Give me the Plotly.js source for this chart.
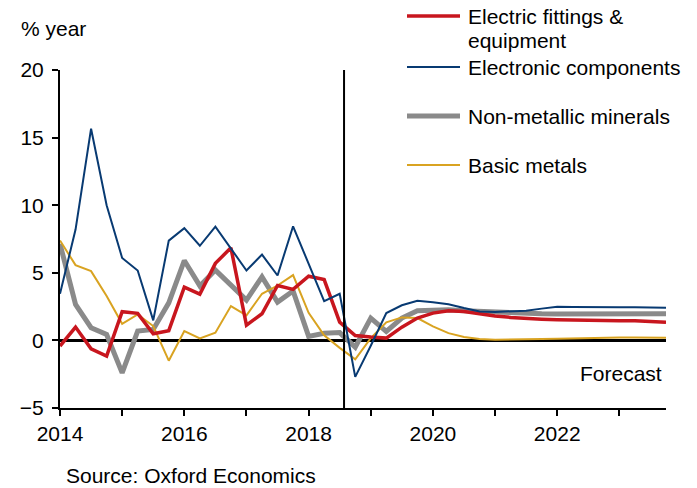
<!DOCTYPE html>
<html>
<head>
<meta charset="utf-8">
<script src="https://cdn.plot.ly/plotly-3.0.1.min.js"></script>
<style>
  html, body { margin: 0; padding: 0; background: #fff; }
  #chart { width: 697px; height: 488px; }
</style>
</head>
<body>
<div id="chart"></div>
<script>
// Quarterly year-on-year growth, 2014Q1 to 2023Q4 (forecast from mid-2018)
const startYear = 2014;
const endYear = 2023;

const electricFittings = [
  -0.42, 0.99, -0.62, -1.16,
   2.12, 2.00,  0.49,  0.72,
   3.94, 3.42,  5.70,  6.85,
   1.13, 1.97,  4.06,  3.77,
   4.75, 4.50,  1.35,  0.36,
   0.25, 0.17,  0.98,  1.65,
   2.02, 2.19,  2.14,  1.95,
   1.80, 1.70,  1.62,  1.57,
   1.53, 1.50,  1.47,  1.45,
   1.45, 1.46,  1.42,  1.35
];

const electronicComponents = [
   3.45, 8.20, 15.66, 10.00,
   6.10, 5.17,  1.48,  7.38,
   8.30, 7.00,  8.42,  6.80,
   5.17, 6.35,  4.80,  8.44,
   5.60, 2.90,  3.45, -2.70,
  -0.40, 2.02,  2.60,  2.93,
   2.83, 2.68,  2.39,  2.14,
   2.10, 2.15,  2.20,  2.35,
   2.48, 2.47,  2.45,  2.45,
   2.45, 2.45,  2.44,  2.42
];

const nonMetallicMinerals = [
   7.14, 2.66, 0.94, 0.44,
  -2.40, 0.69, 0.81, 2.78,
   5.91, 4.03, 5.20, 4.14,
   2.98, 4.70, 2.83, 3.65,
   0.30, 0.53, 0.58, -0.50,
   1.65, 0.67, 1.65, 2.20,
   2.27, 2.27, 2.20, 2.14,
   2.09, 2.05, 2.00, 1.97,
   1.95, 1.95, 1.96, 1.97,
   1.98, 2.00, 2.00, 1.98
];

const basicMetals = [
   7.39, 5.57, 5.12, 3.28,
   1.23, 1.92, 1.06, -1.50,
   0.69, 0.15, 0.57, 2.54,
   1.85, 3.45, 4.06, 4.83,
   2.04, 0.37, -0.55, -1.40,
   0.17, 1.33, 1.70, 1.65,
   1.03, 0.54, 0.25, 0.10,
   0.05, 0.05, 0.08, 0.10,
   0.13, 0.16, 0.18, 0.20,
   0.22, 0.22, 0.21, 0.20
];

const seriesNames = [
  'Electric fittings &',
  'equipment',
  'Electronic components',
  'Non-metallic minerals',
  'Basic metals'
];

const yTickVals = [-5, 0, 5, 10, 15, 20];
const xTickVals = [2014, 2015, 2016, 2017, 2018, 2019, 2020, 2021, 2022, 2023];
const xTickText = ['2014', '', '2016', '', '2018', '', '2020', '', '2022', ''];
const forecastStart = 2018.57;

// Quarter positions as decimal years
const quarters = [];
for (let y = startYear; y <= endYear; y++) {
  for (let q = 0; q < 4; q++) quarters.push(y + q * 0.25);
}

const RED = '#C8161E';
const BLUE = '#083A72';
const GREY = '#8A8A8A';
const GOLD = '#D9A321';
const FONT = 'Liberation Sans, Arial, sans-serif';

const traces = [
  { y: nonMetallicMinerals, color: GREY, width: 5 },
  { y: basicMetals, color: GOLD, width: 2 },
  { y: electricFittings, color: RED, width: 3.5 },
  { y: electronicComponents, color: BLUE, width: 2 }
].map(s => ({
  type: 'scatter',
  mode: 'lines',
  x: quarters,
  y: s.y,
  line: { color: s.color, width: s.width },
  hoverinfo: 'skip',
  showlegend: false
}));

// Legend drawn as swatches + labels to the top right
const legendRows = [
  { color: RED, width: 3.5, py: 16, label: [seriesNames[0], seriesNames[1]] },
  { color: BLUE, width: 2, py: 67, label: [seriesNames[2]] },
  { color: GREY, width: 5, py: 116, label: [seriesNames[3]] },
  { color: GOLD, width: 2, py: 165, label: [seriesNames[4]] }
];

// pixel -> paper helpers for the 60..666 x 70..408 plot box
const L = 60, R = 666, T = 70, B = 408;
const px = v => (v - L) / (R - L);
const py = v => (B - v) / (B - T);

const shapes = [
  {
    type: 'line', xref: 'x', yref: 'paper',
    x0: forecastStart, x1: forecastStart, y0: 0, y1: 1,
    line: { color: '#000', width: 2 }
  }
];
const annotations = [];

legendRows.forEach(r => {
  shapes.push({
    type: 'line', xref: 'paper', yref: 'paper',
    x0: px(407), x1: px(460), y0: py(r.py), y1: py(r.py),
    line: { color: r.color, width: r.width }
  });
  r.label.forEach((t, i) => {
    annotations.push({
      xref: 'paper', yref: 'paper',
      x: px(466), y: py(r.py + i * 24),
      xanchor: 'left', yanchor: 'middle',
      text: t, showarrow: false,
      font: { family: FONT, size: 21, color: '#000' }
    });
  });
});

annotations.push(
  {
    xref: 'paper', yref: 'paper', x: px(19), y: py(28),
    xanchor: 'left', yanchor: 'middle', text: '% year', showarrow: false,
    font: { family: FONT, size: 21, color: '#000' }
  },
  {
    xref: 'paper', yref: 'paper', x: px(664), y: py(373),
    xanchor: 'right', yanchor: 'middle', text: 'Forecast', showarrow: false,
    font: { family: FONT, size: 21, color: '#000' }
  },
  {
    xref: 'paper', yref: 'paper', x: px(64), y: py(475),
    xanchor: 'left', yanchor: 'middle', text: 'Source: Oxford Economics', showarrow: false,
    font: { family: FONT, size: 21, color: '#000' }
  }
);

const layout = {
  width: 697,
  height: 488,
  margin: { l: L, r: 697 - R, t: T, b: 488 - B, pad: 0 },
  paper_bgcolor: '#fff',
  plot_bgcolor: '#fff',
  font: { family: FONT, size: 21, color: '#000' },
  showlegend: false,
  xaxis: {
    range: [2014, 2023.75],
    tickvals: xTickVals,
    ticktext: xTickText,
    ticks: 'outside',
    ticklen: 6,
    tickwidth: 2,
    tickcolor: '#000',
    showline: true,
    linecolor: '#000',
    linewidth: 2,
    showgrid: false,
    zeroline: false,
    tickfont: { family: FONT, size: 21, color: '#000' }
  },
  yaxis: {
    range: [-5, 20],
    tickvals: yTickVals,
    ticks: 'outside',
    ticklen: 6,
    tickwidth: 2,
    tickcolor: '#000',
    showline: true,
    linecolor: '#000',
    linewidth: 2,
    showgrid: false,
    zeroline: true,
    zerolinecolor: '#000',
    zerolinewidth: 2.5,
    ticklabelstandoff: 4,
    tickfont: { family: FONT, size: 21, color: '#000' }
  },
  shapes: shapes,
  annotations: annotations
};

Plotly.newPlot('chart', traces, layout, { staticPlot: true, displayModeBar: false });
</script>
</body>
</html>
